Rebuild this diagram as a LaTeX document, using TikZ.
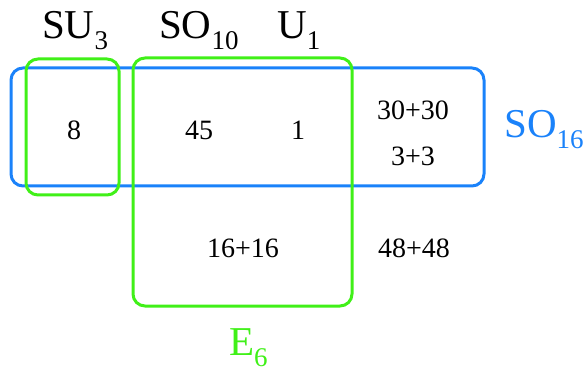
\documentclass[tikz,border=0pt]{standalone}
\usepackage{fontspec}
\setmainfont{Liberation Serif}
\usepackage{xcolor}
\usepackage{tikz}
\usetikzlibrary{positioning}
\definecolor{soblue}{RGB}{26,130,250}
\definecolor{esgreen}{RGB}{64,240,24}
\newcommand{\lowsub}[1]{\raisebox{-11pt}{\fontsize{27}{30}\selectfont #1}}
\tikzset{
  grpbox/.style={line width=3pt, rounded corners=12pt},
  num/.style={font=\fontsize{28}{32}\selectfont, inner sep=0pt},
  grplabel/.style={font=\fontsize{41}{46}\selectfont, inner sep=0pt, anchor=base west}
}

\begin{document}
\begin{tikzpicture}[x=1pt, y=-1pt]
\useasboundingbox (0,0) rectangle (583,371);
% the group boxes
\draw[grpbox, soblue] (11,68) rectangle (484,186);
\draw[grpbox, esgreen] (26,59) rectangle (119,195);
\draw[grpbox, esgreen] (133,58) rectangle (352,306);
% labels of the groups
\node[grplabel] (su3) at (42,39) {SU\lowsub{3}};
\node[grplabel] (so10) at (159,39) {SO\lowsub{10}};
\node[grplabel] (u1) at (277,39) {U\lowsub{1}};
\node[grplabel, soblue] (so16) at (504,138) {SO\lowsub{16}};
\node[grplabel, esgreen] (e6) at (229,355) {E\lowsub{6}};
% the pieces
\node[num] (eight) at (74,130) {8};
\node[num] (fortyfive) at (199,130) {45};
\node[num] (one) at (298,130) {1};
\node[num] (thirty) at (413,110) {30+30};
\node[num] (three) at (413,156) {3+3};
\node[num] (sixteen) at (243,248) {16+16};
\node[num] (fortyeight) at (414,248) {48+48};
\end{tikzpicture}
\end{document}
